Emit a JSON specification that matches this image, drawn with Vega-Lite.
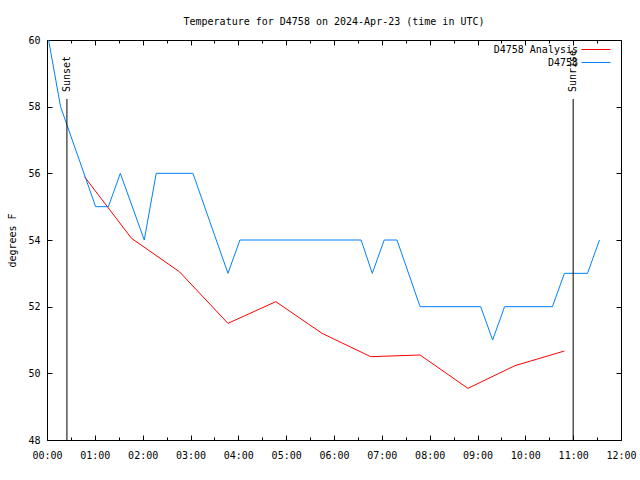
{
  "$schema": "https://vega.github.io/schema/vega-lite/v6.json",
  "width": 574,
  "height": 400,
  "autosize": {"type": "none"},
  "padding": {"left": 47, "top": 40, "right": 19, "bottom": 40},
  "background": "white",
  "title": {
    "text": "Temperature for D4758 on 2024-Apr-23 (time in UTC)",
    "font": "DejaVu Sans Mono",
    "fontSize": 10,
    "fontWeight": "normal",
    "color": "black",
    "baseline": "alphabetic",
    "offset": 0,
    "anchor": "middle"
  },
  "config": {
    "view": {"stroke": "black", "strokeWidth": 1},
    "font": "DejaVu Sans Mono",
    "axis": {
      "domain": false,
      "grid": false,
      "tickColor": "black",
      "tickWidth": 1,
      "labelColor": "black",
      "labelFont": "DejaVu Sans Mono",
      "labelFontSize": 10,
      "labelFlush": false,
      "labelOverlap": false,
      "titleFont": "DejaVu Sans Mono",
      "titleFontSize": 10,
      "titleFontWeight": "normal",
      "titleColor": "black"
    }
  },
  "layer": [
    {
      "data": {
        "values": [
          {"series": "D4758 Analysis", "time": "2024-04-23T00:47:00Z", "temp": 55.9},
          {"series": "D4758 Analysis", "time": "2024-04-23T01:46:00Z", "temp": 54.05},
          {"series": "D4758 Analysis", "time": "2024-04-23T02:46:00Z", "temp": 53.05},
          {"series": "D4758 Analysis", "time": "2024-04-23T03:47:00Z", "temp": 51.5},
          {"series": "D4758 Analysis", "time": "2024-04-23T04:47:00Z", "temp": 52.15},
          {"series": "D4758 Analysis", "time": "2024-04-23T05:45:00Z", "temp": 51.2},
          {"series": "D4758 Analysis", "time": "2024-04-23T06:46:00Z", "temp": 50.5},
          {"series": "D4758 Analysis", "time": "2024-04-23T07:48:00Z", "temp": 50.55},
          {"series": "D4758 Analysis", "time": "2024-04-23T08:48:00Z", "temp": 49.55},
          {"series": "D4758 Analysis", "time": "2024-04-23T09:47:00Z", "temp": 50.23},
          {"series": "D4758 Analysis", "time": "2024-04-23T10:49:00Z", "temp": 50.67},
          {"series": "D4758", "time": "2024-04-23T00:02:00Z", "temp": 60},
          {"series": "D4758", "time": "2024-04-23T00:17:00Z", "temp": 58},
          {"series": "D4758", "time": "2024-04-23T01:01:00Z", "temp": 55},
          {"series": "D4758", "time": "2024-04-23T01:17:00Z", "temp": 55},
          {"series": "D4758", "time": "2024-04-23T01:32:00Z", "temp": 56},
          {"series": "D4758", "time": "2024-04-23T02:02:00Z", "temp": 54},
          {"series": "D4758", "time": "2024-04-23T02:17:00Z", "temp": 56},
          {"series": "D4758", "time": "2024-04-23T03:03:00Z", "temp": 56},
          {"series": "D4758", "time": "2024-04-23T03:47:00Z", "temp": 53},
          {"series": "D4758", "time": "2024-04-23T04:02:00Z", "temp": 54},
          {"series": "D4758", "time": "2024-04-23T06:34:00Z", "temp": 54},
          {"series": "D4758", "time": "2024-04-23T06:48:00Z", "temp": 53},
          {"series": "D4758", "time": "2024-04-23T07:03:00Z", "temp": 54},
          {"series": "D4758", "time": "2024-04-23T07:19:00Z", "temp": 54},
          {"series": "D4758", "time": "2024-04-23T07:48:00Z", "temp": 52},
          {"series": "D4758", "time": "2024-04-23T09:04:00Z", "temp": 52},
          {"series": "D4758", "time": "2024-04-23T09:19:00Z", "temp": 51},
          {"series": "D4758", "time": "2024-04-23T09:34:00Z", "temp": 52},
          {"series": "D4758", "time": "2024-04-23T10:34:00Z", "temp": 52},
          {"series": "D4758", "time": "2024-04-23T10:49:00Z", "temp": 53},
          {"series": "D4758", "time": "2024-04-23T11:18:00Z", "temp": 53},
          {"series": "D4758", "time": "2024-04-23T11:33:00Z", "temp": 54}
        ]
      },
      "mark": {"type": "line", "strokeWidth": 1, "interpolate": "linear"},
      "encoding": {
        "x": {
          "field": "time",
          "type": "temporal",
          "scale": {
            "type": "utc",
            "domain": [
              {"year": 2024, "month": 4, "date": 23, "hours": 0, "utc": true},
              {"year": 2024, "month": 4, "date": 23, "hours": 12, "utc": true}
            ]
          },
          "axis": {
            "orient": "bottom",
            "title": null,
            "format": "%H:%M",
            "values": [
              {"year": 2024, "month": 4, "date": 23, "hours": 0, "minutes": 0, "utc": true},
              {"year": 2024, "month": 4, "date": 23, "hours": 0, "minutes": 30, "utc": true},
              {"year": 2024, "month": 4, "date": 23, "hours": 1, "minutes": 0, "utc": true},
              {"year": 2024, "month": 4, "date": 23, "hours": 1, "minutes": 30, "utc": true},
              {"year": 2024, "month": 4, "date": 23, "hours": 2, "minutes": 0, "utc": true},
              {"year": 2024, "month": 4, "date": 23, "hours": 2, "minutes": 30, "utc": true},
              {"year": 2024, "month": 4, "date": 23, "hours": 3, "minutes": 0, "utc": true},
              {"year": 2024, "month": 4, "date": 23, "hours": 3, "minutes": 30, "utc": true},
              {"year": 2024, "month": 4, "date": 23, "hours": 4, "minutes": 0, "utc": true},
              {"year": 2024, "month": 4, "date": 23, "hours": 4, "minutes": 30, "utc": true},
              {"year": 2024, "month": 4, "date": 23, "hours": 5, "minutes": 0, "utc": true},
              {"year": 2024, "month": 4, "date": 23, "hours": 5, "minutes": 30, "utc": true},
              {"year": 2024, "month": 4, "date": 23, "hours": 6, "minutes": 0, "utc": true},
              {"year": 2024, "month": 4, "date": 23, "hours": 6, "minutes": 30, "utc": true},
              {"year": 2024, "month": 4, "date": 23, "hours": 7, "minutes": 0, "utc": true},
              {"year": 2024, "month": 4, "date": 23, "hours": 7, "minutes": 30, "utc": true},
              {"year": 2024, "month": 4, "date": 23, "hours": 8, "minutes": 0, "utc": true},
              {"year": 2024, "month": 4, "date": 23, "hours": 8, "minutes": 30, "utc": true},
              {"year": 2024, "month": 4, "date": 23, "hours": 9, "minutes": 0, "utc": true},
              {"year": 2024, "month": 4, "date": 23, "hours": 9, "minutes": 30, "utc": true},
              {"year": 2024, "month": 4, "date": 23, "hours": 10, "minutes": 0, "utc": true},
              {"year": 2024, "month": 4, "date": 23, "hours": 10, "minutes": 30, "utc": true},
              {"year": 2024, "month": 4, "date": 23, "hours": 11, "minutes": 0, "utc": true},
              {"year": 2024, "month": 4, "date": 23, "hours": 11, "minutes": 30, "utc": true},
              {"year": 2024, "month": 4, "date": 23, "hours": 12, "minutes": 0, "utc": true}
            ],
            "labelExpr": "utcminutes(datum.value) == 30 ? '' : datum.label",
            "tickSize": {"condition": {"test": "utcminutes(datum.value) == 30", "value": -3}, "value": -5},
            "labelPadding": 15
          }
        },
        "y": {
          "field": "temp",
          "type": "quantitative",
          "scale": {"domain": [48, 60], "nice": false, "zero": false},
          "axis": {
            "orient": "left",
            "title": "degrees F",
            "values": [48, 50, 52, 54, 56, 58, 60],
            "tickSize": -5,
            "labelPadding": 12,
            "titleAngle": -90,
            "titleX": -35,
            "titleY": 200,
            "titleAlign": "center",
            "titleBaseline": "middle"
          }
        },
        "color": {
          "field": "series",
          "type": "nominal",
          "scale": {"domain": ["D4758 Analysis", "D4758"], "range": ["#ff0000", "#0080ff"]},
          "legend": {
            "title": null,
            "orient": "none",
            "legendX": 541.5,
            "legendY": 2,
            "symbolType": "M-2.07,0H2.07",
            "symbolSize": 196,
            "symbolStrokeWidth": 1,
            "symbolFillColor": "transparent",
            "labelAlign": "right",
            "labelOffset": -25.5,
            "labelFont": "DejaVu Sans Mono",
            "labelFontSize": 10,
            "labelColor": "black",
            "rowPadding": 0,
            "padding": 0
          }
        }
      }
    },
    {
      "data": {
        "values": [
          {"event": "Sunset", "time": "2024-04-23T00:25:00Z"},
          {"event": "Sunrise", "time": "2024-04-23T11:00:00Z"}
        ]
      },
      "mark": {"type": "rule", "color": "black", "strokeWidth": 1},
      "encoding": {
        "x": {
          "field": "time",
          "type": "temporal",
          "scale": {"type": "utc"},
          "axis": {
            "orient": "top",
            "title": null,
            "labels": false,
            "values": [
              {"year": 2024, "month": 4, "date": 23, "hours": 0, "minutes": 0, "utc": true},
              {"year": 2024, "month": 4, "date": 23, "hours": 0, "minutes": 30, "utc": true},
              {"year": 2024, "month": 4, "date": 23, "hours": 1, "minutes": 0, "utc": true},
              {"year": 2024, "month": 4, "date": 23, "hours": 1, "minutes": 30, "utc": true},
              {"year": 2024, "month": 4, "date": 23, "hours": 2, "minutes": 0, "utc": true},
              {"year": 2024, "month": 4, "date": 23, "hours": 2, "minutes": 30, "utc": true},
              {"year": 2024, "month": 4, "date": 23, "hours": 3, "minutes": 0, "utc": true},
              {"year": 2024, "month": 4, "date": 23, "hours": 3, "minutes": 30, "utc": true},
              {"year": 2024, "month": 4, "date": 23, "hours": 4, "minutes": 0, "utc": true},
              {"year": 2024, "month": 4, "date": 23, "hours": 4, "minutes": 30, "utc": true},
              {"year": 2024, "month": 4, "date": 23, "hours": 5, "minutes": 0, "utc": true},
              {"year": 2024, "month": 4, "date": 23, "hours": 5, "minutes": 30, "utc": true},
              {"year": 2024, "month": 4, "date": 23, "hours": 6, "minutes": 0, "utc": true},
              {"year": 2024, "month": 4, "date": 23, "hours": 6, "minutes": 30, "utc": true},
              {"year": 2024, "month": 4, "date": 23, "hours": 7, "minutes": 0, "utc": true},
              {"year": 2024, "month": 4, "date": 23, "hours": 7, "minutes": 30, "utc": true},
              {"year": 2024, "month": 4, "date": 23, "hours": 8, "minutes": 0, "utc": true},
              {"year": 2024, "month": 4, "date": 23, "hours": 8, "minutes": 30, "utc": true},
              {"year": 2024, "month": 4, "date": 23, "hours": 9, "minutes": 0, "utc": true},
              {"year": 2024, "month": 4, "date": 23, "hours": 9, "minutes": 30, "utc": true},
              {"year": 2024, "month": 4, "date": 23, "hours": 10, "minutes": 0, "utc": true},
              {"year": 2024, "month": 4, "date": 23, "hours": 10, "minutes": 30, "utc": true},
              {"year": 2024, "month": 4, "date": 23, "hours": 11, "minutes": 0, "utc": true},
              {"year": 2024, "month": 4, "date": 23, "hours": 11, "minutes": 30, "utc": true},
              {"year": 2024, "month": 4, "date": 23, "hours": 12, "minutes": 0, "utc": true}
            ],
            "tickSize": {"condition": {"test": "utcminutes(datum.value) == 30", "value": -3}, "value": -5}
          }
        },
        "y": {
          "datum": 48,
          "type": "quantitative",
          "axis": {
            "orient": "right",
            "title": null,
            "labels": false,
            "values": [48, 50, 52, 54, 56, 58, 60],
            "tickSize": -5
          }
        },
        "y2": {"datum": 58.23}
      }
    },
    {
      "data": {
        "values": [
          {"event": "Sunset", "time": "2024-04-23T00:25:00Z"},
          {"event": "Sunrise", "time": "2024-04-23T11:00:00Z"}
        ]
      },
      "mark": {
        "type": "text",
        "angle": 270,
        "align": "left",
        "baseline": "middle",
        "font": "DejaVu Sans Mono",
        "fontSize": 10,
        "color": "black"
      },
      "encoding": {
        "x": {"field": "time", "type": "temporal", "scale": {"type": "utc"}, "axis": null},
        "y": {"datum": 58.44, "type": "quantitative", "axis": null},
        "text": {"field": "event"}
      }
    }
  ],
  "resolve": {"axis": {"x": "independent", "y": "independent"}}
}
